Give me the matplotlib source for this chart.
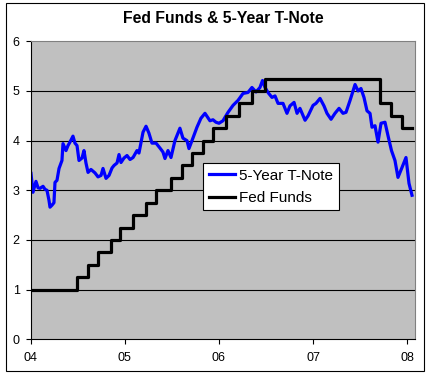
import matplotlib
matplotlib.use('Agg')
import matplotlib.pyplot as plt
from matplotlib.patches import Rectangle

plt.rcParams['font.family'] = ['Liberation Sans', 'DejaVu Sans']

# 5-year T-note yield (decimal year, percent)
note_years = [
    2004.003, 2004.024, 2004.056, 2004.078, 2004.099, 2004.131, 2004.152, 2004.173,
    2004.194, 2004.205, 2004.226, 2004.247, 2004.258, 2004.279, 2004.301, 2004.332,
    2004.343, 2004.375, 2004.396, 2004.417, 2004.449, 2004.470, 2004.492, 2004.513,
    2004.545, 2004.566, 2004.587, 2004.609, 2004.640, 2004.683, 2004.715, 2004.747,
    2004.768, 2004.800, 2004.832, 2004.864, 2004.885, 2004.917, 2004.938, 2004.959,
    2004.991, 2005.023, 2005.055, 2005.087, 2005.129, 2005.150, 2005.193, 2005.225,
    2005.256, 2005.288, 2005.331, 2005.373, 2005.405, 2005.426, 2005.458, 2005.490,
    2005.532, 2005.585, 2005.617, 2005.660, 2005.681, 2005.713, 2005.766, 2005.808,
    2005.851, 2005.904, 2005.936, 2005.968, 2006.000, 2006.042, 2006.096, 2006.149,
    2006.202, 2006.255, 2006.308, 2006.350, 2006.393, 2006.435, 2006.462, 2006.489,
    2006.520, 2006.563, 2006.595, 2006.627, 2006.680, 2006.722, 2006.754, 2006.797,
    2006.829, 2006.860, 2006.914, 2006.946, 2006.999, 2007.030, 2007.073, 2007.115,
    2007.147, 2007.190, 2007.232, 2007.275, 2007.317, 2007.349, 2007.392, 2007.445,
    2007.477, 2007.508, 2007.540, 2007.572, 2007.604, 2007.625, 2007.657, 2007.689,
    2007.721, 2007.763, 2007.795, 2007.832, 2007.869, 2007.901, 2007.944, 2007.986,
    2008.018, 2008.050,
]
note_yield = [
    3.34, 2.96, 3.18, 3.05, 3.04, 3.08, 3.02, 3.00,
    2.80, 2.66, 2.70, 2.75, 3.16, 3.20, 3.44, 3.60,
    3.94, 3.80, 3.90, 3.97, 4.09, 3.95, 3.90, 3.60,
    3.65, 3.80, 3.55, 3.36, 3.42, 3.35, 3.27, 3.30,
    3.44, 3.24, 3.30, 3.45, 3.50, 3.55, 3.72, 3.56,
    3.65, 3.70, 3.62, 3.66, 3.80, 3.75, 4.17, 4.29,
    4.15, 3.95, 3.95, 3.85, 3.77, 3.64, 3.80, 3.66,
    4.00, 4.25, 4.05, 4.00, 3.84, 4.00, 4.27, 4.45,
    4.55, 4.40, 4.42, 4.37, 4.35, 4.40, 4.57, 4.71,
    4.81, 4.95, 4.97, 5.07, 4.98, 5.07, 5.21, 5.07,
    4.97, 4.87, 4.90, 4.75, 4.75, 4.55, 4.70, 4.77,
    4.55, 4.65, 4.41, 4.50, 4.71, 4.75, 4.85, 4.70,
    4.55, 4.43, 4.55, 4.65, 4.55, 4.57, 4.81, 5.13,
    5.00, 5.05, 4.87, 4.60, 4.55, 4.27, 4.30, 3.97,
    4.35, 4.37, 4.10, 3.80, 3.60, 3.26, 3.46, 3.66,
    3.14, 2.90,
]

# Fed funds target: date each rate took effect, last entry = end of data
fed_years = [
    2004.000, 2004.492, 2004.605, 2004.718, 2004.853, 2004.948, 2005.090, 2005.221,
    2005.331, 2005.487, 2005.604, 2005.716, 2005.833, 2005.939, 2006.074, 2006.216,
    2006.347, 2006.489, 2007.715, 2007.827, 2007.947, 2008.055,
]
fed_rate = [
    1.00, 1.25, 1.50, 1.75, 2.00, 2.25, 2.50, 2.75,
    3.00, 3.25, 3.50, 3.75, 4.00, 4.25, 4.50, 4.75,
    5.00, 5.25, 4.75, 4.50, 4.25, 4.25,
]

year_ticks = [2004, 2005, 2006, 2007, 2008]
year_labels = ['04', '05', '06', '07', '08']

fig = plt.figure(figsize=(4.3, 3.76), dpi=100)
fig.patches.append(Rectangle((5.5 / 430, 1 - 370.5 / 376), 418.5 / 430, 367.5 / 376,
                             transform=fig.transFigure, fill=False,
                             edgecolor='black', linewidth=0.8))

ax = fig.add_axes([30.7 / 430, 1 - 339.3 / 376, 384.6 / 430, 298 / 376])
ax.set_facecolor('#c0c0c0')

ax.plot(note_years, note_yield, color='#0000ff', linewidth=2.3, label='5-Year T-Note')
ax.plot(fed_years, fed_rate, color='black', linewidth=2.3, drawstyle='steps-post',
        label='Fed Funds')

ax.set_xlim(2004.0, 2004.0 + 384.6 / 94.15)
ax.set_ylim(0, 6)
ax.set_yticks(range(7))
ax.set_xticks(year_ticks)
ax.set_xticklabels(year_labels)
for v in range(1, 6):
    ax.axhline(v, color='black', linewidth=0.8, zorder=0.5)

ax.spines['left'].set_color('black')
ax.spines['bottom'].set_color('black')
ax.spines['top'].set_color('#808080')
ax.spines['right'].set_color('#808080')
for s in ax.spines.values():
    s.set_linewidth(0.8)
ax.tick_params(direction='out', length=3.5, width=0.8, labelsize=9, colors='black')
ax.tick_params(axis='y', pad=4.5)
ax.tick_params(axis='x', pad=6)

ax.set_title('Fed Funds & 5-Year T-Note', fontsize=11.3, fontweight='bold', pad=13)

leg = ax.legend(loc='upper left', bbox_to_anchor=(0.449, 0.5906), borderaxespad=0,
                fancybox=False, framealpha=1, edgecolor='black', fontsize=11,
                handlelength=1.7, handletextpad=0.3, borderpad=0.35, labelspacing=0.55)
leg.get_frame().set_linewidth(0.8)

fig.savefig('out.png', dpi=100)
